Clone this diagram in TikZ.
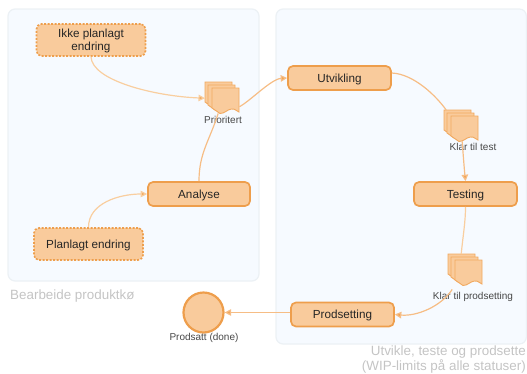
\documentclass[tikz,border=0pt]{standalone}
\usepackage{fontspec}
\setmainfont{Liberation Sans}
\usetikzlibrary{arrows.meta,calc}
\definecolor{panelfill}{HTML}{F6FAFF}
\definecolor{panelline}{HTML}{ECF1F5}
\definecolor{boxfill}{HTML}{F9CB9C}
\definecolor{boxline}{HTML}{EE9E4C}
\definecolor{conn}{HTML}{F9CE9F}
\definecolor{connb}{HTML}{F6BD85}
\definecolor{txt}{HTML}{262626}
\definecolor{captiontxt}{HTML}{C4C4C4}
\tikzset{
  x=1pt,y=-1pt,
  panel/.style={draw=panelline,fill=panelfill,line width=1.2pt,rounded corners=7pt},
  proc/.style={draw=boxline,fill=boxfill,line width=1.7pt,rounded corners=5pt,text=txt,font=\fontsize{11.7}{12.7}\selectfont,align=center,inner sep=0pt},
  single/.style={text height=9pt,text depth=1pt},
  plan/.style={proc,dash pattern=on 2pt off 1.5pt,line width=1.6pt},
  docpart/.style={draw=boxline!75!boxfill,fill=boxfill,line width=0.9pt},
  doclabel/.style={text=txt!85!white,font=\fontsize{10}{11}\selectfont,inner sep=0pt},
  docanchor/.style={inner sep=0pt,minimum width=34pt,minimum height=31pt},
  caption/.style={text=captiontxt,font=\fontsize{13.4}{15}\selectfont,inner sep=0pt},
  link/.style={draw=conn,line width=1.2pt},
  arrowlink/.style={link,-{Triangle[length=6.5pt,width=6.5pt,fill=boxline!70!boxfill]}},
  strong/.style={draw=connb,line width=1.2pt,-{Triangle[length=6.5pt,width=6.5pt,fill=boxline!85!boxfill]}},
}
\newcommand{\onesheet}{%
  \path[docpart] (0,0) -- (27,0) -- (27,24)
    .. controls (24.5,23.5) and (23.5,20.5) .. (19.5,21)
    .. controls (15,21.5) and (13,25.5) .. (8,25.5)
    -- (0,20) -- cycle;}
\newcommand{\stackdoc}[3]{%
  \node[docanchor,anchor=north west] (#1) at (#2,#3) {};
  \begin{scope}[shift={(#2,#3)}]
    \onesheet
    \begin{scope}[shift={(3,3)}]\onesheet\end{scope}
    \begin{scope}[shift={(7,6)}]\onesheet\end{scope}
  \end{scope}
}
\begin{document}
\begin{tikzpicture}
\useasboundingbox (0,0) rectangle (527,373);
\path[panel] (8,9) rectangle (259,281);
\path[panel] (276,9) rectangle (526.4,344);
\node[caption,anchor=west] (cap1) at (10,296) {Bearbeide produktkø};
\node[caption,anchor=east,align=right] (cap2) at (526,359.5) {Utvikle, teste og prodsette\\(WIP-limits på alle statuser)};

\stackdoc{prio}{205}{82}
\stackdoc{test}{444}{110}
\stackdoc{pklar}{448}{254}
\node[doclabel] (priol) at (223,120) {Prioritert};
\node[doclabel] (testl) at (473,147) {Klar til test};
\node[doclabel] (pklarl) at (473,297) {Klar til prodsetting};

\node[plan,minimum width=109pt,minimum height=32pt,text depth=0pt] (ikke) at (91,40) {Ikke planlagt\\endring};
\node[plan,single,minimum width=109pt,minimum height=32pt] (plan) at (88.5,244) {Planlagt endring};
\node[proc,single,minimum width=102pt,minimum height=24pt] (ana) at (199,194) {Analyse};
\node[proc,single,minimum width=103pt,minimum height=24pt] (utv) at (339.5,78) {Utvikling};
\node[proc,single,minimum width=103pt,minimum height=24pt] (tes) at (465.5,194) {Testing};
\node[proc,single,minimum width=103pt,minimum height=24pt] (prod) at (342.5,314.5) {Prodsetting};
\node[circle,draw=boxline,fill=boxfill,line width=2.2pt,minimum size=40pt,inner sep=0pt] (done) at (203.5,312.5) {};
\node[doclabel] (donel) at (204,338) {Prodsatt (done)};

\draw[arrowlink] (ikke.south) .. controls +(1,24) and +(-50,-2) .. ([yshift=-0.5pt]prio.west);
\draw[arrowlink] (plan.north) .. controls +(0,-24) and +(-28,0) .. (ana.west);
\draw[link,draw=connb] (ana.north) .. controls +(0,-28) and +(-9,28) .. ([xshift=-4pt]prio.south);
\draw[strong] ([yshift=-9pt]prio.east) .. controls +(10,-5) and +(-16,1) .. (utv.west);
\draw[link,draw=connb] ([yshift=5pt]utv.east) .. controls +(22,1) and +(-10,-14) .. ([xshift=-15pt]test.north);
\draw[strong] ([xshift=1pt]test.south) .. controls +(0.7,10) and +(-1.2,-12) .. (tes.north);
\draw[link] (tes.south) .. controls +(0,15) and +(2,-20) .. ([xshift=-4pt]pklar.north);
\draw[strong] ([xshift=-13pt,yshift=-4pt]pklar.south) .. controls +(-11,17) and +(22,2) .. (prod.east);
\draw[strong] (prod.west |- done.east) -- (done.east);
\end{tikzpicture}
\end{document}
